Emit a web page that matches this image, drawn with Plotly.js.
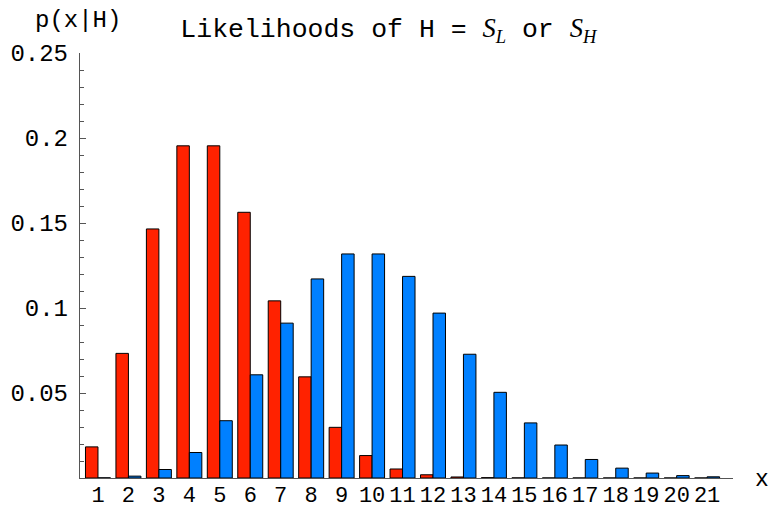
<!DOCTYPE html>
<html>
<head>
<meta charset="utf-8">
<script src="https://cdn.plot.ly/plotly-3.0.1.min.js"></script>
<style>html,body{margin:0;padding:0;background:#fff}#chart{width:769px;height:508px}</style>
</head>
<body>
<div id="chart"></div>
<script>
var categories = [1,2,3,4,5,6,7,8,9,10,11,12,13,14,15,16,17,18,19,20,21];
var tickLabels = ["1","2","3","4","5","6","7","8","9","10","11","12","13","14","15","16","17","18","19","20","21"];
var likelihoodSL = [0.0183,0.0733,0.1465,0.1954,0.1954,0.1563,0.1042,0.0595,0.0298,0.0132,0.0053,0.0019,0.0006,0.0002,0.00005,0.00001,0,0,0,0,0];
var likelihoodSH = [0.0001,0.0011,0.0050,0.0150,0.0337,0.0607,0.0911,0.1171,0.1318,0.1318,0.1186,0.0970,0.0728,0.0504,0.0324,0.0194,0.0109,0.0058,0.0029,0.0014,0.0007];
var yTickVals = [0.05,0.1,0.15,0.2,0.25];
var yTickText = ["0.05","0.1","0.15","0.2","0.25"];

var mono = "Liberation Mono, Courier New, monospace";
var traces = [
  {type:"bar", x:categories, y:likelihoodSL, name:"S_L",
   marker:{color:"rgb(255,34,0)", line:{color:"#000", width:1}}},
  {type:"bar", x:categories, y:likelihoodSH, name:"S_H",
   marker:{color:"rgb(0,128,255)", line:{color:"#000", width:1}}}
];
var sty = 'style="font-family:Liberation Serif,Times New Roman,serif"';
var layout = {
  width:769, height:508,
  margin:{l:80, r:36, t:53, b:30},
  paper_bgcolor:"#fff", plot_bgcolor:"#fff",
  showlegend:false,
  barmode:"group", bargap:0.18, bargroupgap:0,
  font:{family:mono, size:23, color:"#000"},
  title:{text:"Likelihoods of H = <span "+sty+"><i>S</i><sub><i>L</i></sub></span> or <span "+sty+"><i>S</i><sub><i>H</i></sub></span>",
         x:0.505, xanchor:"center", y:0.945, yanchor:"middle", font:{family:mono, size:26.5, color:"#000"}},
  xaxis:{range:[0.41,21.85], tickvals:categories, ticktext:tickLabels, ticks:"",
         showline:true, linecolor:"#555", linewidth:1.2, showgrid:false, zeroline:false,
         tickfont:{family:mono, size:22}, ticklabelstandoff:-4, fixedrange:true},
  yaxis:{range:[0,0.25], tickvals:yTickVals, ticktext:yTickText, ticks:"inside", ticklen:6, tickcolor:"#555", tickwidth:1,
         minor:{dtick:0.01, tick0:0, ticks:"inside", ticklen:3.5, tickcolor:"#555", tickwidth:1},
         showline:true, linecolor:"#555", linewidth:1.2, showgrid:false, zeroline:false,
         tickfont:{family:mono, size:24}, ticklabelstandoff:6, fixedrange:true},
  annotations:[
    {text:"p(x|H)", xref:"paper", yref:"paper", x:-0.072, y:1.04, xanchor:"left", yanchor:"bottom",
     showarrow:false, font:{family:mono, size:24}},
    {text:"x", xref:"paper", yref:"paper", x:1, y:0, xanchor:"left", yanchor:"middle",
     showarrow:false, font:{family:mono, size:23}, xshift:20, yshift:-2}
  ]
};
Plotly.newPlot("chart", traces, layout, {displayModeBar:false, staticPlot:true});
</script>
</body>
</html>
